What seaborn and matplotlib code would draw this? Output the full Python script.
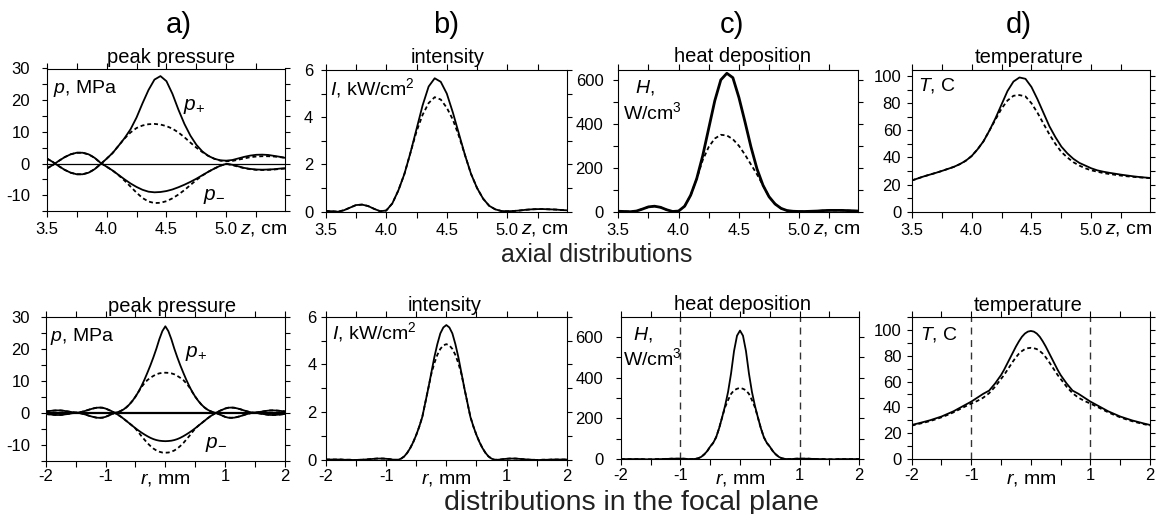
import numpy as np
import pandas as pd
import matplotlib
matplotlib.use("Agg")
import matplotlib.pyplot as plt
import seaborn as sns
from matplotlib.ticker import MultipleLocator, FixedLocator, FixedFormatter

# ---------------- data ----------------
# axial coordinate z, cm
z = [3.50, 3.55, 3.60, 3.65, 3.70, 3.75, 3.80, 3.85, 3.90, 3.95,
     4.00, 4.05, 4.10, 4.15, 4.20, 4.25, 4.30, 4.35, 4.40, 4.45,
     4.50, 4.55, 4.60, 4.65, 4.70, 4.75, 4.80, 4.85, 4.90, 4.95,
     5.00, 5.05, 5.10, 5.15, 5.20, 5.25, 5.30, 5.35, 5.40, 5.45, 5.49]

# a) peak pressure on axis, MPa
pplus_z = [1.6, 0.5, -0.8, -2.0, -2.9, -3.4, -3.4, -2.9, -1.8, -0.2,
           1.5, 3.3, 5.6, 8.0, 10.8, 14.5, 19.0, 23.2, 26.5, 27.6,
           26.0, 22.0, 17.0, 12.5, 8.8, 5.9, 3.8, 2.4, 1.5, 1.0,
           0.9, 1.1, 1.6, 2.1, 2.5, 2.75, 2.8, 2.7, 2.4, 2.1, 1.8]
pminus_z = [-1.6, -0.5, 0.8, 2.0, 2.9, 3.4, 3.4, 2.9, 1.8, 0.2,
            -1.0, -2.2, -3.6, -5.0, -6.3, -7.4, -8.3, -8.9, -9.1, -9.0,
            -8.7, -8.2, -7.5, -6.7, -5.8, -4.8, -3.7, -2.6, -1.6, -0.7,
            -0.1, -0.4, -0.9, -1.4, -1.7, -1.9, -1.95, -1.9, -1.8, -1.6, -1.5]
pplus_z_lin = [1.6, 0.5, -0.8, -2.0, -2.9, -3.4, -3.4, -2.9, -1.8, -0.2,
               1.5, 3.3, 5.6, 7.9, 9.8, 11.2, 12.0, 12.4, 12.5, 12.3,
               11.8, 11.0, 9.8, 8.3, 6.6, 5.0, 3.6, 2.4, 1.5, 0.9,
               0.7, 0.8, 1.2, 1.6, 2.0, 2.2, 2.3, 2.3, 2.2, 2.0, 1.8]
pminus_z_lin = [-1.6, -0.5, 0.8, 2.0, 2.9, 3.4, 3.4, 2.9, 1.8, 0.2,
                -1.0, -2.2, -3.7, -5.4, -7.3, -9.2, -10.9, -12.0, -12.5, -12.4,
                -11.9, -11.0, -9.8, -8.4, -6.8, -5.2, -3.8, -2.6, -1.6, -0.7,
                -0.1, -0.5, -1.0, -1.5, -1.8, -2.0, -2.05, -2.0, -1.9, -1.7, -1.6]

# b) intensity on axis, kW/cm^2
I_z = [0.03, 0.02, 0.0, 0.06, 0.17, 0.28, 0.30, 0.24, 0.12, 0.02,
       0.05, 0.35, 0.9, 1.6, 2.5, 3.5, 4.5, 5.3, 5.65, 5.5,
       5.0, 4.2, 3.3, 2.4, 1.6, 1.0, 0.55, 0.25, 0.1, 0.03,
       0.02, 0.03, 0.05, 0.08, 0.1, 0.11, 0.11, 0.1, 0.09, 0.07, 0.06]
I_z_lin = [0.03, 0.02, 0.0, 0.06, 0.17, 0.28, 0.30, 0.24, 0.12, 0.02,
           0.05, 0.35, 0.9, 1.6, 2.5, 3.4, 4.1, 4.6, 4.85, 4.75,
           4.4, 3.9, 3.2, 2.4, 1.6, 1.0, 0.55, 0.25, 0.1, 0.03,
           0.02, 0.03, 0.05, 0.08, 0.1, 0.11, 0.11, 0.1, 0.09, 0.07, 0.06]

# c) heat deposition on axis, W/cm^3
H_z = [2, 1, 0, 3, 12, 22, 25, 20, 9, 1,
       3, 25, 75, 150, 255, 380, 505, 600, 630, 610,
       520, 410, 295, 195, 120, 68, 35, 15, 5, 2,
       1, 1, 2, 3, 5, 6, 6, 6, 5, 4, 3]
H_z_lin = [2, 1, 0, 3, 12, 22, 25, 20, 9, 1,
           3, 25, 75, 150, 235, 295, 333, 350, 347, 330,
           300, 260, 215, 170, 120, 68, 35, 15, 5, 2,
           1, 1, 2, 3, 5, 6, 6, 6, 5, 4, 3]

# d) temperature on axis, C
T_z = [23, 24.5, 26, 27.3, 28.6, 30, 31.5, 33, 35, 37.5,
       41, 46, 52, 60, 69, 79, 89, 96, 99, 98,
       92, 83, 73, 63, 55, 48, 43, 39, 36, 34,
       32, 30.5, 29.5, 28.7, 28, 27.3, 26.7, 26.1, 25.6, 25.2, 24.9]
T_z_lin = [23, 24.5, 26, 27.3, 28.6, 30, 31.5, 33, 35, 37.5,
           41, 46, 52, 60, 68, 76, 82, 85.5, 86, 85,
           80, 73, 65, 57, 50, 44, 40, 36.5, 34, 32,
           30.5, 29.5, 28.5, 27.8, 27.2, 26.6, 26.1, 25.7, 25.3, 25.0, 24.8]

# focal plane: radial coordinate r, mm (r >= 0 half; the picture is symmetric)
r_half = [0.00, 0.05, 0.10, 0.15, 0.20, 0.25, 0.30, 0.35, 0.40, 0.45,
          0.50, 0.55, 0.60, 0.65, 0.70, 0.75, 0.80, 0.85, 0.90, 0.95,
          1.00, 1.05, 1.10, 1.15, 1.20, 1.25, 1.30, 1.35, 1.40, 1.45,
          1.50, 1.55, 1.60, 1.65, 1.70, 1.75, 1.80, 1.85, 1.90, 1.95, 2.00]
pplus_r = [27.0, 25.5, 23.0, 20.0, 17.3, 14.8, 12.5, 10.3, 8.3, 6.5,
           5.0, 3.7, 2.6, 1.7, 1.0, 0.5, 0.15, -0.1, -0.5, -0.9,
           -1.3, -1.55, -1.6, -1.55, -1.35, -1.1, -0.8, -0.5, -0.25, -0.05,
           0.05, 0.15, 0.3, 0.45, 0.6, 0.7, 0.72, 0.68, 0.6, 0.5, 0.4]
pminus_r = [-8.9, -8.85, -8.75, -8.55, -8.25, -7.85, -7.35, -6.8, -6.2, -5.55,
            -4.85, -4.1, -3.35, -2.6, -1.85, -1.15, -0.55, 0.0, 0.5, 0.9,
            1.3, 1.55, 1.6, 1.55, 1.35, 1.1, 0.8, 0.5, 0.25, 0.05,
            -0.05, -0.15, -0.3, -0.45, -0.6, -0.7, -0.72, -0.68, -0.6, -0.5, -0.4]
pplus_r_lin = [12.5, 12.45, 12.3, 12.0, 11.5, 10.9, 10.2, 9.2, 8.0, 6.5,
               5.0, 3.7, 2.6, 1.7, 1.0, 0.5, 0.15, -0.1, -0.5, -0.9,
               -1.3, -1.55, -1.6, -1.55, -1.35, -1.1, -0.8, -0.5, -0.25, -0.05,
               0.05, 0.15, 0.3, 0.45, 0.6, 0.7, 0.72, 0.68, 0.6, 0.5, 0.4]
pminus_r_lin = [-12.5, -12.45, -12.2, -11.8, -11.2, -10.4, -9.5, -8.4, -7.3, -6.1,
                -4.95, -4.1, -3.35, -2.6, -1.85, -1.15, -0.55, 0.0, 0.5, 0.9,
                1.3, 1.55, 1.6, 1.55, 1.35, 1.1, 0.8, 0.5, 0.25, 0.05,
                -0.05, -0.15, -0.3, -0.45, -0.6, -0.7, -0.72, -0.68, -0.6, -0.5, -0.4]
I_r = [5.65, 5.55, 5.3, 4.85, 4.3, 3.65, 3.0, 2.4, 1.8, 1.4,
       1.05, 0.75, 0.5, 0.3, 0.15, 0.06, 0.01, 0.01, 0.02, 0.04,
       0.05, 0.06, 0.06, 0.06, 0.05, 0.04, 0.03, 0.02, 0.01, 0.01,
       0.0, 0.0, 0.01, 0.01, 0.01, 0.02, 0.02, 0.02, 0.02, 0.02, 0.02]
I_r_lin = [4.85, 4.8, 4.65, 4.4, 4.05, 3.6, 3.0, 2.4, 1.8, 1.4,
           1.05, 0.75, 0.5, 0.3, 0.15, 0.06, 0.01, 0.01, 0.02, 0.04,
           0.05, 0.06, 0.06, 0.06, 0.05, 0.04, 0.03, 0.02, 0.01, 0.01,
           0.0, 0.0, 0.01, 0.01, 0.01, 0.02, 0.02, 0.02, 0.02, 0.02, 0.02]
H_r = [630, 605, 530, 420, 330, 262, 205, 152, 108, 80,
       62, 40, 24, 12, 5, 2, 1, 1, 2, 3,
       3, 3, 3, 3, 2, 2, 1, 1, 1, 0,
       0, 0, 0, 1, 1, 1, 1, 1, 1, 1, 1]
H_r_lin = [350, 345, 338, 320, 290, 255, 205, 152, 108, 80,
           62, 40, 24, 12, 5, 2, 1, 1, 2, 3,
           3, 3, 3, 3, 2, 2, 1, 1, 1, 0,
           0, 0, 0, 1, 1, 1, 1, 1, 1, 1, 1]
rT_half = [0.0, 0.05, 0.10, 0.15, 0.20, 0.25, 0.30, 0.35, 0.40, 0.45, 0.50,
           0.60, 0.70, 0.80, 0.90, 1.00, 1.10, 1.20, 1.30, 1.40, 1.50,
           1.60, 1.70, 1.80, 1.90, 2.00]
T_r = [99, 98.5, 97, 94.5, 91, 87, 82.5, 78, 73.5, 69, 65,
       58.5, 53, 50.5, 47.5, 44.5, 42, 39.5, 37, 35, 33,
       31.5, 30, 28.8, 27.6, 26.5]
T_r_lin = [86, 85.7, 85, 83.5, 81.5, 78.7, 75.5, 72, 68.5, 65, 62,
           56, 51, 47.5, 45, 43, 40.8, 38.5, 36.2, 34.2, 32.4,
           30.8, 29.4, 28.2, 27.1, 26.0]
focal_marks = [-1, 1]


def mirror_x(h):
    return [-v for v in reversed(h[1:])] + list(h)


def mirror_y(h):
    return list(reversed(h[1:])) + list(h)


# ---------------- style ----------------
sns.set_theme(style="ticks")
plt.rcParams["font.family"] = ["Liberation Sans", "DejaVu Sans"]
plt.rcParams["mathtext.fontset"] = "custom"
plt.rcParams["mathtext.rm"] = "Liberation Sans"
plt.rcParams["mathtext.it"] = "Liberation Sans:italic"
plt.rcParams["mathtext.bf"] = "Liberation Sans:bold"
plt.rcParams["axes.unicode_minus"] = False
plt.rcParams["axes.linewidth"] = 0.8
plt.rcParams["axes.edgecolor"] = "black"
plt.rcParams["xtick.color"] = "black"
plt.rcParams["ytick.color"] = "black"
plt.rcParams["text.color"] = "black"

W, H = 1159, 514
fig = plt.figure(figsize=(W / 100, H / 100), dpi=100)
fig.patch.set_facecolor("white")

TICK = 12
TITLE = 14.5
LAB = 14


def add_ax(l, r, t, b):
    return fig.add_axes([l / W, 1 - b / H, (r - l) / W, (b - t) / H])


def ftxt(x, y, s, size, ha="left", va="baseline", **kw):
    fig.text(x / W, 1 - y / H, s, fontsize=size, ha=ha, va=va, **kw)


DASH = (0, (2.2, 1.6))


def curve(ax, x, y, dashed=False, lw=1.3):
    df = pd.DataFrame({"x": x, "y": y})
    sns.lineplot(data=df, x="x", y="y", ax=ax, color="black", lw=lw,
                 linestyle=DASH if dashed else "-", sort=False, estimator=None)
    ax.set_xlabel("")
    ax.set_ylabel("")


def style_ax(ax, ylim, ymaj, ymin, ypad, top_row):
    ax.set_facecolor("white")
    ax.set_ylim(*ylim)
    ax.yaxis.set_major_locator(FixedLocator(ymaj))
    ax.yaxis.set_minor_locator(MultipleLocator(ymin))
    ax.tick_params(which="both", direction="out", top=True, right=True,
                   width=0.8, labelsize=TICK)
    ax.tick_params(axis="y", which="both", length=3.5, pad=ypad)
    ax.tick_params(axis="x", which="both", length=4,
                   pad=3.8 if top_row else 2.2)
    for s in ax.spines.values():
        s.set_visible(True)
        s.set_linewidth(0.8)
        s.set_color("black")


def top_x(ax):
    ax.set_xlim(3.5, 5.49)
    ax.xaxis.set_major_locator(FixedLocator([3.5, 4.0, 4.5, 5.0]))
    ax.xaxis.set_major_formatter(FixedFormatter(["3.5", "4.0", "4.5", "5.0"]))
    ax.xaxis.set_minor_locator(MultipleLocator(0.25))


def bot_x(ax):
    ax.set_xlim(-2, 2)
    ax.xaxis.set_major_locator(FixedLocator([-2, -1, 0, 1, 2]))
    ax.xaxis.set_major_formatter(FixedFormatter(["-2", "-1", "", "1", "2"]))
    ax.xaxis.set_minor_locator(MultipleLocator(0.5))


# ---------------- top row: axial distributions ----------------
axA = add_ax(46.7, 285, 68.5, 211)
axB = add_ax(325.7, 566.7, 70, 211.7)
axC = add_ax(618.3, 858.3, 70, 211.7)
axD = add_ax(911.7, 1150, 70, 211.7)

axA.axhline(0, color="black", lw=0.9)
curve(axA, z, pplus_z_lin, True)
curve(axA, z, pminus_z_lin, True)
curve(axA, z, pplus_z)
curve(axA, z, pminus_z)
style_ax(axA, (-15, 30), [-10, 0, 10, 20, 30], 5, 8.6, True)
top_x(axA)

curve(axB, z, I_z_lin, True)
curve(axB, z, I_z)
style_ax(axB, (0, 6), [0, 2, 4, 6], 1, 5.5, True)
top_x(axB)

curve(axC, z, H_z_lin, True)
curve(axC, z, H_z, lw=2.0)
style_ax(axC, (0, 645), [0, 200, 400, 600], 100, 7.2, True)
top_x(axC)

curve(axD, z, T_z_lin, True)
curve(axD, z, T_z)
style_ax(axD, (0, 104.5), [0, 20, 40, 60, 80, 100], 10, 4.1, True)
top_x(axD)

# ---------------- bottom row: focal plane ----------------
axE = add_ax(45.7, 285, 316.7, 460.7)
axF = add_ax(326, 566.7, 316.7, 460)
axG = add_ax(620.7, 859.3, 317.3, 459.3)
axK = add_ax(911.7, 1150, 316.7, 459.3)

r = mirror_x(r_half)
rT = mirror_x(rT_half)

axE.axhline(0, color="black", lw=1.6)
curve(axE, r, mirror_y(pplus_r_lin), True)
curve(axE, r, mirror_y(pminus_r_lin), True)
curve(axE, r, mirror_y(pplus_r))
curve(axE, r, mirror_y(pminus_r))
style_ax(axE, (-15, 30), [-10, 0, 10, 20, 30], 5, 7.9, False)
bot_x(axE)

curve(axF, r, mirror_y(I_r_lin), True)
curve(axF, r, mirror_y(I_r))
style_ax(axF, (0, 6), [0, 2, 4, 6], 1, 3.4, False)
bot_x(axF)

for xm in focal_marks:
    axG.axvline(xm, color="#333333", lw=1.0, linestyle=(0, (5, 4)))
curve(axG, r, mirror_y(H_r_lin), True)
curve(axG, r, mirror_y(H_r))
style_ax(axG, (0, 695), [0, 200, 400, 600], 100, 9.1, False)
bot_x(axG)

for xm in focal_marks:
    axK.axvline(xm, color="#333333", lw=1.0, linestyle=(0, (5, 4)))
curve(axK, rT, mirror_y(T_r_lin), True)
curve(axK, rT, mirror_y(T_r))
style_ax(axK, (0, 110), [0, 20, 40, 60, 80, 100], 10, 3.8, False)
bot_x(axK)

# ---------------- texts ----------------
for x, s in [(179, "a)"), (446, "b)"), (732, "c)"), (1019, "d)")]:
    ftxt(x, 33.3, s, 21, ha="center")

for x, y, s in [(171, 63, "peak pressure"), (448, 63, "intensity"),
                (742, 62.5, "heat deposition"), (1029, 63, "temperature"),
                (171.7, 311.5, "peak pressure"), (445, 311, "intensity"),
                (742, 309.5, "heat deposition"), (1028, 311, "temperature")]:
    ftxt(x, y, s, TITLE, ha="center")

ftxt(53, 93.3, r"$p$, MPa", LAB)
ftxt(330, 94.3, r"$I$, kW/cm$^2$", LAB)
ftxt(635, 92.7, r"$H$,", LAB)
ftxt(623, 119, r"W/cm$^3$", LAB)
ftxt(918, 90.7, r"$T$, C", LAB)
ftxt(50, 341, r"$p$, MPa", LAB)
ftxt(332, 339, r"$I$, kW/cm$^2$", LAB)
ftxt(633, 340, r"$H$,", LAB)
ftxt(623, 365, r"W/cm$^3$", LAB)
ftxt(920, 339.3, r"$T$, C", LAB)

ftxt(183, 110, r"$p_{\!+}$", LAB + 1)
ftxt(203, 200, r"$p_{\!-}$", LAB + 1)
ftxt(185, 356.7, r"$p_{\!+}$", LAB + 1)
ftxt(205, 448.3, r"$p_{\!-}$", LAB + 1)

for ax in [axA, axB, axC, axD]:
    x0 = ax.transData.transform((5.0, 0))[0]
    ftxt(x0 + 13.5, 233.3, r"$z$, cm", LAB)
for ax in [axE, axF, axG, axK]:
    x0 = ax.transData.transform((0.0, 0))[0]
    ftxt(x0, 483, r"$r$, mm", LAB, ha="center")

ftxt(597, 261.7, "axial distributions", 18, ha="center", color="#222222")
ftxt(631, 510, "distributions in the focal plane", 20.5, ha="center", color="#222222")

fig.savefig("out.png", dpi=100, facecolor="white")
